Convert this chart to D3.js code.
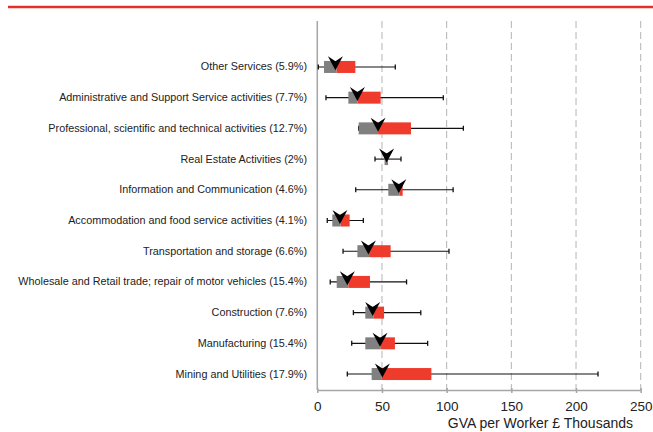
<!DOCTYPE html>
<html>
<head>
<meta charset="utf-8">
<script src="https://cdn.jsdelivr.net/npm/d3@7/dist/d3.min.js"></script>
<style>
  html, body { margin: 0; padding: 0; background: #fff; }
  svg { display: block; font-family: "Liberation Sans", Arial, sans-serif; }
</style>
</head>
<body>
<svg id="chart" width="653" height="432"></svg>
<script>
// Sectors (share of employment in brackets), top to bottom
const categories = [
  "Other Services (5.9%)",
  "Administrative and Support Service activities (7.7%)",
  "Professional, scientific and technical activities (12.7%)",
  "Real Estate Activities (2%)",
  "Information and Communication (4.6%)",
  "Accommodation and food service activities (4.1%)",
  "Transportation and storage (6.6%)",
  "Wholesale and Retail trade; repair of motor vehicles (15.4%)",
  "Construction (7.6%)",
  "Manufacturing (15.4%)",
  "Mining and Utilities (17.9%)"
];

// GVA per worker, £ thousands
const minValues    = [0.8, 6.7, 32, 44.6, 29.7, 7.7, 19.9, 10, 27.9, 26.6, 23.2];
const q1Values     = [5.2, 24, 32, 52, 54.9, 11.6, 31, 15, 37.1, 37.1, 42];
const medianValues = [15, 31, 47, 54, 63.4, 18, 40, 24, 43.3, 49, 49.8];
const q3Values     = [29.4, 49, 72.4, 54.7, 66, 25, 56.7, 40.7, 51.6, 60, 88.2];
const maxValues    = [60.3, 97.4, 112.9, 64.7, 105, 35.6, 101.8, 69, 80, 85.3, 217];
const meanValues   = [14, 31, 47, 53.6, 63, 17.5, 39.5, 23.2, 42.8, 48.5, 50.3];

const xTicks = [0, 50, 100, 150, 200, 250];
const xTitle = "GVA per Worker £ Thousands";

const rows = categories.map((c, i) => ({
  cat: c, min: minValues[i], q1: q1Values[i], med: medianValues[i],
  q3: q3Values[i], max: maxValues[i], mean: meanValues[i]
}));

const svg = d3.select("#chart");
const plotTop = 21, plotBottom = 390;

const x = d3.scaleLinear().domain([0, 250]).range([317.3, 640.7]);
const y = d3.scaleBand().domain(categories).range([51.6, 389.4]).padding(0);
const cy = c => y(c) + y.bandwidth() / 2;
const boxH = 12;

const grey = "#808080", red = "#ef3b2c";

// Header rule
svg.append("line")
  .attr("x1", 8).attr("x2", 653).attr("y1", 7).attr("y2", 7)
  .attr("stroke", "#e8302a").attr("stroke-width", 2.5);

// Vertical gridlines
svg.append("g").selectAll("line")
  .data(xTicks.filter(t => t > 0))
  .join("line")
  .attr("x1", d => x(d)).attr("x2", d => x(d))
  .attr("y1", plotTop).attr("y2", plotBottom)
  .attr("stroke", "#b4b4b4").attr("stroke-width", 1)
  .attr("stroke-dasharray", "7,4");

// Left axis line
svg.append("line")
  .attr("x1", x(0)).attr("x2", x(0))
  .attr("y1", plotTop).attr("y2", plotBottom)
  .attr("stroke", "#a6a6a6").attr("stroke-width", 1.5);

// Bottom axis
const xAxis = svg.append("g")
  .attr("transform", `translate(0,${plotBottom})`)
  .call(d3.axisBottom(x).tickValues(xTicks).tickSize(3).tickPadding(8).tickSizeOuter(0));
xAxis.select(".domain").attr("stroke", "#a6a6a6").attr("stroke-width", 1.5);
xAxis.selectAll(".tick line").attr("stroke", "#a6a6a6").attr("stroke-width", 1.5)
  .attr("y1", -2);
xAxis.selectAll(".tick text")
  .attr("font-size", 13.5).attr("fill", "#222")
  .attr("font-family", "'Liberation Sans', Arial, sans-serif");

svg.append("text")
  .attr("x", 633).attr("y", 428)
  .attr("text-anchor", "end")
  .attr("font-size", 14).attr("fill", "#222")
  .text(xTitle);

// Category labels
const yAxis = svg.append("g")
  .attr("transform", `translate(307,0)`)
  .call(d3.axisLeft(y).tickSize(0).tickPadding(0));
yAxis.select(".domain").remove();
yAxis.selectAll(".tick text")
  .attr("font-size", 10.8).attr("fill", "#222")
  .attr("font-family", "'Liberation Sans', Arial, sans-serif");

// Box plots
const g = svg.append("g").selectAll("g").data(rows).join("g")
  .attr("transform", d => `translate(0,${cy(d.cat)})`);

// whiskers
g.append("line")
  .attr("x1", d => x(d.min)).attr("x2", d => x(d.max))
  .attr("y1", 0).attr("y2", 0)
  .attr("stroke", "#111").attr("stroke-width", 1.1);
g.append("line")
  .attr("x1", d => x(d.min)).attr("x2", d => x(d.min))
  .attr("y1", -2.5).attr("y2", 2.5)
  .attr("stroke", "#111").attr("stroke-width", 1.3);
g.append("line")
  .attr("x1", d => x(d.max)).attr("x2", d => x(d.max))
  .attr("y1", -2.5).attr("y2", 2.5)
  .attr("stroke", "#111").attr("stroke-width", 1.3);

// lower box: Q1 to median
g.append("rect")
  .attr("x", d => x(d.q1)).attr("width", d => x(d.med) - x(d.q1))
  .attr("y", -boxH / 2).attr("height", boxH)
  .attr("fill", grey);
// upper box: median to Q3
g.append("rect")
  .attr("x", d => x(d.med)).attr("width", d => x(d.q3) - x(d.med))
  .attr("y", -boxH / 2).attr("height", boxH)
  .attr("fill", red);

// mean marker: downward chevron
g.append("path")
  .attr("transform", d => `translate(${x(d.mean)},3.4)`)
  .attr("d", "M0,0 L-7.5,-14 L0,-9 L7.5,-14 Z")
  .attr("fill", "#000");
</script>
</body>
</html>
